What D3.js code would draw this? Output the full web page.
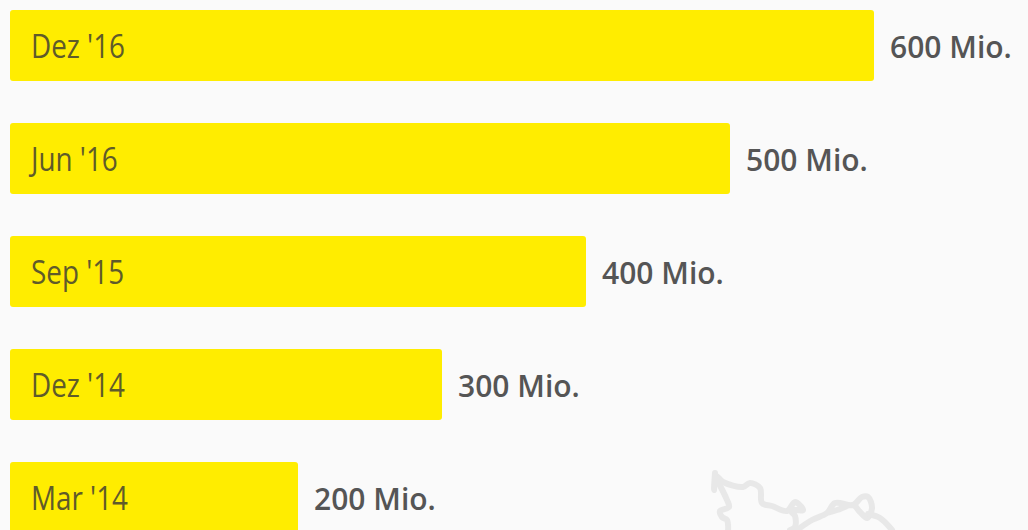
<!DOCTYPE html>
<html>
<head>
<meta charset="utf-8">
<script src="https://cdnjs.cloudflare.com/ajax/libs/d3/7.8.5/d3.min.js"></script>
<style>
  html, body { margin: 0; padding: 0; background: #fafafa; overflow: hidden; }
  svg { display: block; }
</style>
</head>
<body>
<div id="chart"></div>
<script>
// chart data
var dates = ["Dez '16", "Jun '16", "Sep '15", "Dez '14", "Mar '14"];
var users = [600, 500, 400, 300, 200];
var valueLabels = ["600 Mio.", "500 Mio.", "400 Mio.", "300 Mio.", "200 Mio."];

// faint map outline in the background (decoration only)
var mapPaths = [
  [[715,473],[714,490],[716,476],[723,482],[743,487],[750,483],[760,488],[762,503],[772,506],[787,511],[795,502],[803,510],[790,510],[795,516],[795,527],[790,530]],
  [[716,478],[727,500],[729,507],[720,511],[722,517],[727,520],[728,532]],
  [[797,530],[812,520],[827,513],[835,503],[853,505],[862,497],[868,497],[872,508],[867,518],[860,512],[853,505],[837,510],[827,513]],
  [[868,514],[880,518],[892,530]]
];

var svgWidth = 1028;
var svgHeight = 530;

var svg = d3.select("#chart")
  .append("svg")
  .attr("width", svgWidth)
  .attr("height", svgHeight);

var line = d3.line().curve(d3.curveCatmullRom);

svg.selectAll("path.map")
  .data(mapPaths)
  .enter()
  .append("path")
  .attr("class", "map")
  .attr("d", line)
  .attr("fill", "none")
  .attr("stroke", "#e8e8e8")
  .attr("stroke-width", 6)
  .attr("stroke-linejoin", "round")
  .attr("stroke-linecap", "round");

// scales
var xScale = d3.scaleLinear()
  .domain([0, 600])
  .range([10, 874]);

var yScale = d3.scaleBand()
  .domain(dates)
  .range([10, 533])
  .paddingInner(42 / 113)
  .paddingOuter(0);

var rows = dates.map(function (d, i) {
  return { date: d, value: users[i], label: valueLabels[i] };
});

// bars
svg.selectAll("rect.bar")
  .data(rows)
  .enter()
  .append("rect")
  .attr("class", "bar")
  .attr("x", xScale(0))
  .attr("y", d => yScale(d.date))
  .attr("width", d => xScale(d.value) - xScale(0))
  .attr("height", yScale.bandwidth())
  .attr("rx", 3)
  .attr("fill", "#ffed00");

// date labels inside the bars, squeezed since no condensed font is installed
svg.selectAll("text.date")
  .data(rows)
  .enter()
  .append("text")
  .attr("class", "date")
  .attr("transform", d => `translate(31, ${yScale(d.date) + 48}) scale(0.87, 1)`)
  .attr("font-family", "'Open Sans', sans-serif")
  .attr("font-size", "32px")
  .attr("fill", "#5f5b2a")
  .text(d => d.date);

// value labels to the right of the bars
svg.selectAll("text.value")
  .data(rows)
  .enter()
  .append("text")
  .attr("class", "value")
  .attr("x", d => xScale(d.value) + 16)
  .attr("y", d => yScale(d.date) + 48)
  .attr("font-family", "'Open Sans', sans-serif")
  .attr("font-weight", 600)
  .attr("font-size", "30px")
  .attr("fill", "#555555")
  .text(d => d.label);
</script>
</body>
</html>
